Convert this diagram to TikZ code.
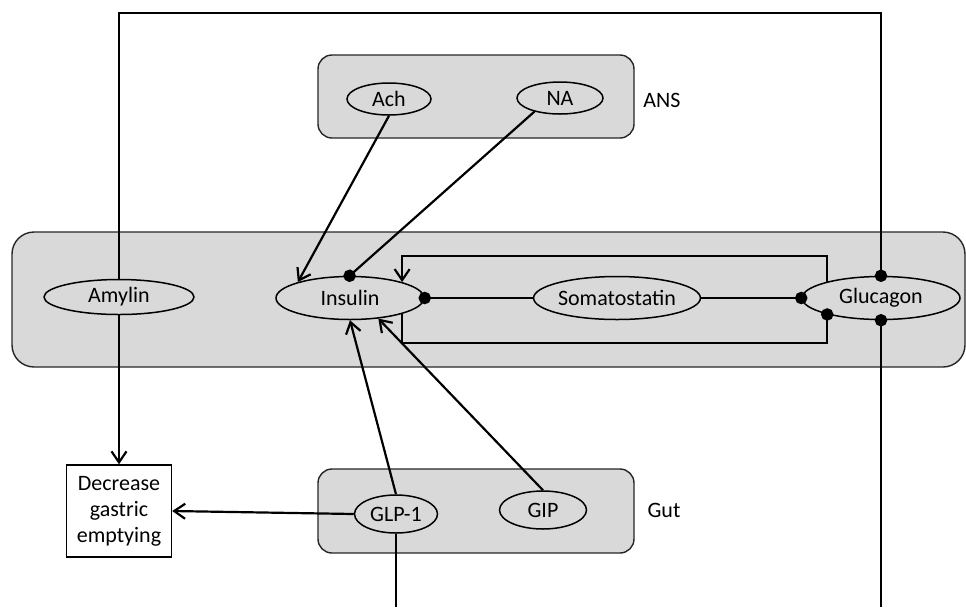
\documentclass[tikz,border=0pt]{standalone}
\usepackage{fontspec}
\setmainfont{Carlito}
\usetikzlibrary{shapes.geometric,arrows.meta}
\definecolor{panelgray}{HTML}{D9D9D9}
\begin{document}
\begin{tikzpicture}[x=0.5pt,y=-0.5pt,
  font=\fontsize{11}{13}\selectfont,
  panel/.style={draw=black!85, line width=0.7pt, fill=panelgray, inner sep=0},
  oval/.style={ellipse, draw, line width=0.75pt, fill=panelgray, inner sep=0},
  conn/.style={line width=1.1pt},
  arr/.style={conn, -{Straight Barb[length=5.5pt,width=7.5pt,line width=1.1pt]}},
  dotend/.style={conn, -{Circle[length=6.2pt]}, shorten >=-3.1pt},
  dotstart/.style={conn, {Circle[length=6.2pt]}-, shorten <=-3.1pt},
]
\useasboundingbox (0,0) rectangle (966,607);
% panels
\node[panel, rounded corners=11pt, minimum width=476.5pt, minimum height=67.5pt] (islet) at (488.5,299.5) {};
\node[panel, rounded corners=7pt, minimum width=158pt, minimum height=41.5pt] (ans) at (476,96.5) {};
\node[panel, rounded corners=7pt, minimum width=158pt, minimum height=42pt] (gut) at (476,511) {};
\node (anslbl) at (662,100) {ANS};
\node (gutlbl) at (664,510) {Gut};
% ellipses
\node[oval, minimum width=42pt, minimum height=16pt] (ach) at (389,99) {Ach};
\node[oval, minimum width=43pt, minimum height=16pt] (na) at (560,98) {NA};
\node[oval, minimum width=75pt, minimum height=17.5pt] (amy) at (119,297) {Amylin};
\node[oval, minimum width=74pt, minimum height=21.5pt] (ins) at (350,298) {Insulin};
\node[oval, minimum width=76.5pt, minimum height=21.5pt] (som) at (617,298) {Somatostatin};
\node[oval, minimum width=79pt, minimum height=21.5pt] (glu) at (881,298) {Glucagon};
\node[oval, minimum width=41.5pt, minimum height=19pt] (glp) at (396,514) {GLP-1};
\node[oval, minimum width=43.5pt, minimum height=19pt] (gip) at (543,510) {GIP};
\node[draw, line width=0.7pt, fill=white, minimum width=52.5pt, minimum height=46pt, align=center, inner sep=0] (dec) at (119,511) {Decrease\\gastric\\emptying};
% helper coordinates
\coordinate (topc) at (500,13);
\coordinate (bot) at (500,607);
\coordinate (loopT) at (615,256);
\coordinate (loopB) at (615,343);
% connectors
\draw[dotend] (amy.north) |- (topc) -| (glu.north);
\draw[arr] (amy.south) -- (dec.north);
\draw[arr] (ach.south) -- (ins.163);
\draw[dotend] (na.-152) -- (ins.91);
\draw[dotend] (som.west) -- (ins.east);
\draw[dotend] (som.east) -- (glu.west);
\draw[arr] (glu.163) |- (loopT) -| (ins.17);
\draw[dotend] (ins.-17) |- (loopB) -| (glu.-163);
\draw[dotstart] (glu.south) -- (glu.south |- bot);
\draw[arr] (glp.north) -- (ins.south);
\draw[arr] (gip.north) -- (ins.-36);
\draw[arr] (glp.west) -- (dec.east);
\draw[conn] (glp.south) -- (glp.south |- bot);
\end{tikzpicture}
\end{document}
